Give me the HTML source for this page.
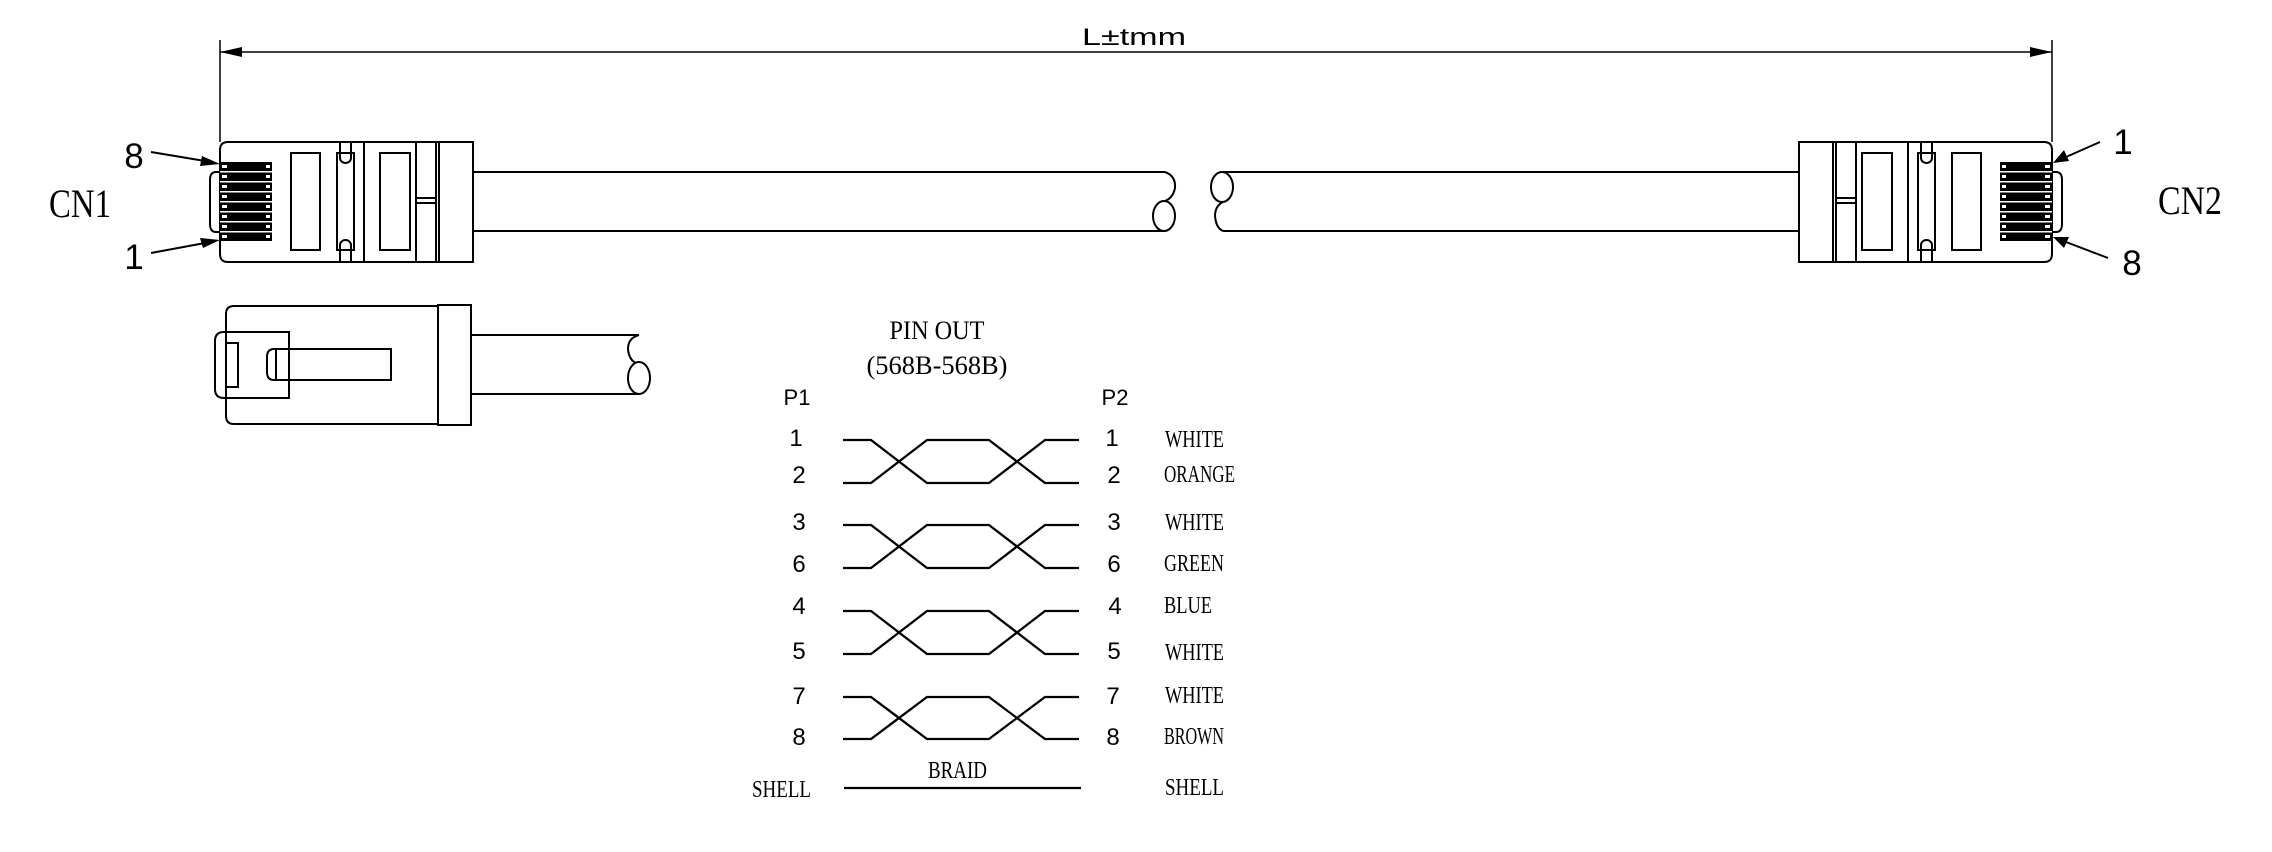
<!DOCTYPE html>
<html><head><meta charset="utf-8"><style>
html,body{margin:0;padding:0;background:#fff;}
svg{display:block;}
.s{font-family:"Liberation Sans",sans-serif;}
.r{font-family:"Liberation Serif",serif;}
</style></head><body>
<svg width="2272" height="852" viewBox="0 0 2272 852" xmlns="http://www.w3.org/2000/svg">
<defs>
<g id="conn" fill="none" stroke="#000" stroke-width="2">
  <path d="M1799,142 H2044 Q2052,142 2052,150 V254 Q2052,262 2044,262 H1799 Z"/>
  <line x1="1833" y1="142" x2="1833" y2="262"/>
  <line x1="1836" y1="142" x2="1836" y2="262"/>
  <line x1="1856" y1="142" x2="1856" y2="262"/>
  <line x1="1836" y1="198" x2="1856" y2="198"/>
  <line x1="1836" y1="203" x2="1856" y2="203"/>
  <rect x="1862" y="153" width="30" height="97"/>
  <line x1="1908" y1="142" x2="1908" y2="262"/>
  <rect x="1918" y="153" width="17" height="97"/>
  <line x1="1921" y1="142" x2="1921" y2="158"/>
  <line x1="1932" y1="142" x2="1932" y2="158"/>
  <path d="M1921,158 A5.5,5 0 0 0 1932,158"/>
  <line x1="1921" y1="245" x2="1921" y2="262"/>
  <line x1="1932" y1="245" x2="1932" y2="262"/>
  <path d="M1921,245 A5.5,5 0 0 1 1932,245"/>
  <rect x="1952" y="153" width="29" height="97"/>
  <path d="M2052,172 H2056 Q2062,172 2062,180 V224 Q2062,232 2056,232 H2052"/>
  <rect x="2000" y="162" width="52" height="79" fill="#000" stroke="none"/>
  <g stroke="none" fill="#fff">
    <rect x="2000" y="171" width="52" height="1.5"/>
    <rect x="2000" y="181" width="52" height="1.5"/>
    <rect x="2000" y="191" width="52" height="1.5"/>
    <rect x="2000" y="201" width="52" height="1.5"/>
    <rect x="2000" y="211" width="52" height="1.5"/>
    <rect x="2000" y="221" width="52" height="1.5"/>
    <rect x="2000" y="231" width="52" height="1.5"/>
    <rect x="2002" y="165" width="4" height="3"/><rect x="2045" y="165" width="5" height="3"/>
    <rect x="2002" y="175" width="4" height="3"/><rect x="2045" y="175" width="5" height="3"/>
    <rect x="2002" y="185" width="4" height="3"/><rect x="2045" y="185" width="5" height="3"/>
    <rect x="2002" y="195" width="4" height="3"/><rect x="2045" y="195" width="5" height="3"/>
    <rect x="2002" y="205" width="4" height="3"/><rect x="2045" y="205" width="5" height="3"/>
    <rect x="2002" y="215" width="4" height="3"/><rect x="2045" y="215" width="5" height="3"/>
    <rect x="2002" y="225" width="4" height="3"/><rect x="2045" y="225" width="5" height="3"/>
    <rect x="2002" y="235" width="4" height="3"/><rect x="2045" y="235" width="5" height="3"/>
  </g>
</g>
</defs>

<g stroke="#000" stroke-width="1.5" fill="none">
  <line x1="220" y1="40" x2="220" y2="142"/>
  <line x1="2052" y1="40" x2="2052" y2="142"/>
  <line x1="220" y1="52" x2="2052" y2="52"/>
</g>
<path d="M220,52 L242,47 L242,57 Z" fill="#000"/>
<path d="M2052,52 L2030,47 L2030,57 Z" fill="#000"/>
<text x="1134" y="45" class="s" font-size="24" text-anchor="middle" textLength="104" lengthAdjust="spacingAndGlyphs">L±tmm</text>

<use href="#conn"/>
<g transform="translate(2272,0) scale(-1,1)"><use href="#conn"/></g>

<g stroke="#000" stroke-width="2" fill="none">
  <line x1="473" y1="172" x2="1165" y2="172"/>
  <line x1="473" y1="231" x2="1165" y2="231"/>
  <path d="M1165,172 Q1176,176 1175,188 Q1173,198 1165,201"/>
  <ellipse cx="1164" cy="216" rx="11" ry="15"/>
  <line x1="1223" y1="172" x2="1799" y2="172"/>
  <line x1="1223" y1="231" x2="1799" y2="231"/>
  <ellipse cx="1222" cy="187" rx="11" ry="15"/>
  <path d="M1223,202 Q1215,206 1215,216 Q1216,228 1223,231"/>
</g>

<text x="134" y="168" class="s" font-size="35" text-anchor="middle">8</text>
<text x="134" y="269" class="s" font-size="35" text-anchor="middle">1</text>
<text x="2123" y="154" class="s" font-size="35" text-anchor="middle">1</text>
<text x="2132" y="275" class="s" font-size="35" text-anchor="middle">8</text>
<g stroke="#000" stroke-width="2">
  <line x1="151" y1="152" x2="205" y2="161"/>
  <line x1="151" y1="253" x2="205" y2="243"/>
  <line x1="2100" y1="142" x2="2066" y2="157"/>
  <line x1="2108" y1="258" x2="2066" y2="242"/>
</g>
<path d="M220,164 L202,156 L200,166 Z" fill="#000"/>
<path d="M220,240 L200,238 L203,248 Z" fill="#000"/>
<path d="M2053,163 L2064,150 L2069,161 Z" fill="#000"/>
<path d="M2053,237 L2069,237 L2064,248 Z" fill="#000"/>
<text x="80" y="217" class="r" font-size="40" text-anchor="middle" textLength="62" lengthAdjust="spacingAndGlyphs">CN1</text>
<text x="2190" y="214" class="r" font-size="40" text-anchor="middle" textLength="64" lengthAdjust="spacingAndGlyphs">CN2</text>

<g stroke="#000" stroke-width="2" fill="none">
  <path d="M234,306 H438 V424 H234 Q226,424 226,416 V314 Q226,306 234,306 Z"/>
  <rect x="438" y="305" width="33" height="120"/>
  <path d="M289,332 H224 Q215,332 215,341 V389 Q215,398 224,398 H289 Z"/>
  <rect x="226" y="343" width="12" height="44"/>
  <path d="M391,349 H274 Q267,349 267,357 V372 Q267,380 274,380 H391 Z"/>
  <line x1="276" y1="349" x2="276" y2="380"/>
  <line x1="471" y1="335" x2="639" y2="335"/>
  <line x1="471" y1="394" x2="639" y2="394"/>
  <path d="M639,335 Q628,338 628,349 Q629,360 636,363"/>
  <ellipse cx="639" cy="378" rx="11" ry="16"/>
</g>

<text x="937" y="339" class="r" font-size="26" text-anchor="middle" textLength="95" lengthAdjust="spacingAndGlyphs">PIN OUT</text>
<text x="937" y="374" class="r" font-size="26" text-anchor="middle" textLength="141" lengthAdjust="spacingAndGlyphs">(568B-568B)</text>
<text x="797" y="405" class="s" font-size="22" text-anchor="middle">P1</text>
<text x="1115" y="405" class="s" font-size="22" text-anchor="middle">P2</text>

<g stroke="#000" stroke-width="2.3" fill="none">
  <path d="M843,440 H871 L927,483 H989 L1045,440 H1079"/>
  <path d="M843,483 H871 L927,440 H989 L1045,483 H1079"/>
  <path d="M843,525 H871 L927,568 H989 L1045,525 H1079"/>
  <path d="M843,568 H871 L927,525 H989 L1045,568 H1079"/>
  <path d="M843,611 H871 L927,654 H989 L1045,611 H1079"/>
  <path d="M843,654 H871 L927,611 H989 L1045,654 H1079"/>
  <path d="M843,697 H871 L927,739 H989 L1045,697 H1079"/>
  <path d="M843,739 H871 L927,697 H989 L1045,739 H1079"/>
  <line x1="844" y1="788" x2="1081" y2="788"/>
</g>

<g class="s" font-size="24" text-anchor="middle">
  <text x="796" y="446">1</text><text x="799" y="483">2</text>
  <text x="799" y="530">3</text><text x="799" y="572">6</text>
  <text x="799" y="614">4</text><text x="799" y="659">5</text>
  <text x="799" y="704">7</text><text x="799" y="745">8</text>
  <text x="1112" y="446">1</text><text x="1114" y="483">2</text>
  <text x="1114" y="530">3</text><text x="1114" y="572">6</text>
  <text x="1115" y="614">4</text><text x="1114" y="659">5</text>
  <text x="1113" y="704">7</text><text x="1113" y="745">8</text>
</g>
<g class="r" font-size="24">
  <text x="1165" y="447" textLength="59" lengthAdjust="spacingAndGlyphs">WHITE</text>
  <text x="1164" y="482" textLength="71" lengthAdjust="spacingAndGlyphs">ORANGE</text>
  <text x="1165" y="530" textLength="59" lengthAdjust="spacingAndGlyphs">WHITE</text>
  <text x="1164" y="571" textLength="60" lengthAdjust="spacingAndGlyphs">GREEN</text>
  <text x="1164" y="613" textLength="48" lengthAdjust="spacingAndGlyphs">BLUE</text>
  <text x="1165" y="660" textLength="59" lengthAdjust="spacingAndGlyphs">WHITE</text>
  <text x="1165" y="703" textLength="59" lengthAdjust="spacingAndGlyphs">WHITE</text>
  <text x="1164" y="744" textLength="60" lengthAdjust="spacingAndGlyphs">BROWN</text>
  <text x="1165" y="795" textLength="59" lengthAdjust="spacingAndGlyphs">SHELL</text>
  <text x="752" y="797" textLength="59" lengthAdjust="spacingAndGlyphs">SHELL</text>
  <text x="928" y="778" textLength="59" lengthAdjust="spacingAndGlyphs">BRAID</text>
</g>
</svg>
</body></html>
